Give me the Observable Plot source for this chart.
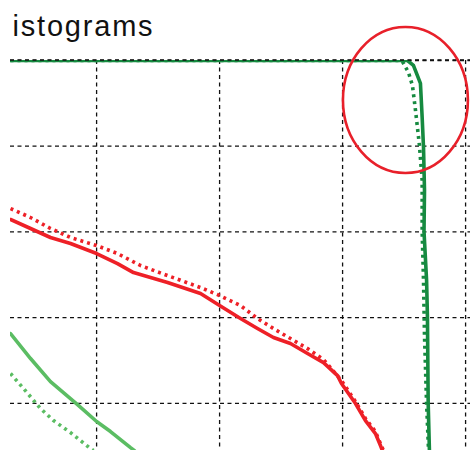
<!DOCTYPE html>
<html>
<head>
<meta charset="utf-8">
<script src="https://cdn.jsdelivr.net/npm/d3@7"></script>
<script src="https://cdn.jsdelivr.net/npm/@observablehq/plot@0.6"></script>
<style>
  html, body { margin: 0; padding: 0; background: #fff; }
</style>
</head>
<body>
<div id="chart"></div>
<script>
const titleText = "istograms";
const xTicks = [1, 2, 3, 4];
const yTicks = [0, -1, -2, -3, -4];

const darkSolidX = [0.3, 3.528, 3.576, 3.633, 3.647, 3.658, 3.666, 3.662, 3.683, 3.690, 3.696, 3.706];
const darkSolidY = [0, 0, -0.058, -0.268, -0.665, -1.015, -1.517, -1.995, -2.567, -2.999, -4.002, -4.55];

const darkDotX = [0.3, 3.454, 3.487, 3.536, 3.568, 3.593, 3.625, 3.647, 3.647, 3.658, 3.666, 3.683, 3.699];
const darkDotY = [0, 0, -0.012, -0.140, -0.292, -0.583, -0.992, -1.400, -1.995, -2.567, -3.209, -4.002, -4.55];

const redSolidX = [0.3, 0.463, 0.625, 0.788, 1.0, 1.170, 1.300, 1.577, 1.845, 2.0, 2.170, 2.308, 2.438, 2.576, 2.715, 2.845, 2.959, 2.991, 3.105, 3.186, 3.267, 3.308, 3.324];
const redSolidY = [-1.855, -1.960, -2.065, -2.135, -2.252, -2.369, -2.474, -2.590, -2.719, -2.859, -3.010, -3.127, -3.232, -3.302, -3.419, -3.524, -3.676, -3.769, -4.002, -4.201, -4.352, -4.492, -4.551];

const redDotX = [0.3, 0.463, 0.625, 0.788, 1.0, 1.170, 1.357, 1.577, 1.845, 2.0, 2.170, 2.308, 2.438, 2.576, 2.715, 2.845, 2.991, 3.105, 3.186, 3.267, 3.332];
const redDotY = [-1.727, -1.832, -1.960, -2.065, -2.159, -2.252, -2.392, -2.509, -2.649, -2.742, -2.859, -3.010, -3.127, -3.244, -3.361, -3.489, -3.734, -3.979, -4.177, -4.329, -4.551];

const lightSolidX = [0.3, 0.463, 0.625, 0.845, 1.0, 1.113, 1.276, 1.308];
const lightSolidY = [-3.186, -3.477, -3.746, -4.014, -4.212, -4.329, -4.516, -4.551];

const lightDotX = [0.3, 0.406, 0.544, 0.650, 0.788, 0.950, 0.975];
const lightDotY = [-3.652, -3.827, -4.061, -4.201, -4.341, -4.527, -4.551];

// annotation ellipse (data units)
const ellipseCenter = {x: 3.515, y: -0.467};
const ellipseRadius = {x: 0.508, y: 0.852};

const toRows = (xs, ys) => xs.map((x, i) => ({x, y: ys[i]}));

const DARK = "#168a40";
const RED = "#ee2027";
const LIGHT = "#5bbd63";
const GRID = "#111";
const LW = 3.6;
const DOTS = "3,4";

const ellipseMark = (index, scales) => {
  const cx = scales.x(ellipseCenter.x), cy = scales.y(ellipseCenter.y);
  const rx = Math.abs(scales.x(ellipseCenter.x + ellipseRadius.x) - cx);
  const ry = Math.abs(scales.y(ellipseCenter.y + ellipseRadius.y) - cy);
  return d3.create("svg:ellipse")
    .attr("cx", cx).attr("cy", cy).attr("rx", rx).attr("ry", ry)
    .attr("fill", "none").attr("stroke", "#e8202a").attr("stroke-width", 2.6)
    .node();
};

const chart = Plot.plot({
  width: 470,
  height: 450,
  marginTop: 60,
  marginLeft: 10,
  marginRight: 0,
  marginBottom: 0,
  style: {background: "#fff", overflow: "visible"},
  x: {domain: [0.3, 4.04], axis: null},
  y: {domain: [-4.55, 0], axis: null},
  marks: [
    Plot.ruleX(xTicks, {stroke: GRID, strokeWidth: 1.3, strokeDasharray: "4,3.5"}),
    Plot.ruleY(yTicks, {stroke: GRID, strokeWidth: 1.3, strokeDasharray: "4,3.5"}),
    Plot.line(toRows(lightDotX, lightDotY), {x: "x", y: "y", stroke: LIGHT, strokeWidth: LW, strokeDasharray: DOTS, strokeLinecap: "butt", clip: true}),
    Plot.line(toRows(lightSolidX, lightSolidY), {x: "x", y: "y", stroke: LIGHT, strokeWidth: LW, clip: true}),
    Plot.line(toRows(redDotX, redDotY), {x: "x", y: "y", stroke: RED, strokeWidth: LW, strokeDasharray: DOTS, strokeLinecap: "butt", clip: true}),
    Plot.line(toRows(redSolidX, redSolidY), {x: "x", y: "y", stroke: RED, strokeWidth: LW, clip: true}),
    Plot.line(toRows(darkDotX, darkDotY), {x: "x", y: "y", stroke: DARK, strokeWidth: LW, strokeDasharray: DOTS, strokeLinecap: "butt", clip: true}),
    Plot.line(toRows(darkSolidX, darkSolidY), {x: "x", y: "y", stroke: DARK, strokeWidth: LW, clip: true}),
    Plot.ruleY([0], {stroke: GRID, strokeWidth: 1.3, strokeDasharray: "4,3.5", dy: -0.5}),
    Plot.text([titleText], {text: d => d, frameAnchor: "top-left", dx: 2, dy: -25, lineAnchor: "bottom", textAnchor: "start", fontSize: 29, fill: "#111", fontFamily: "Liberation Sans, Arial, sans-serif"}),
    ellipseMark
  ]
});
d3.select(chart).selectAll("text").style("letter-spacing", "1.8px");
document.getElementById("chart").appendChild(chart);
</script>
</body>
</html>
